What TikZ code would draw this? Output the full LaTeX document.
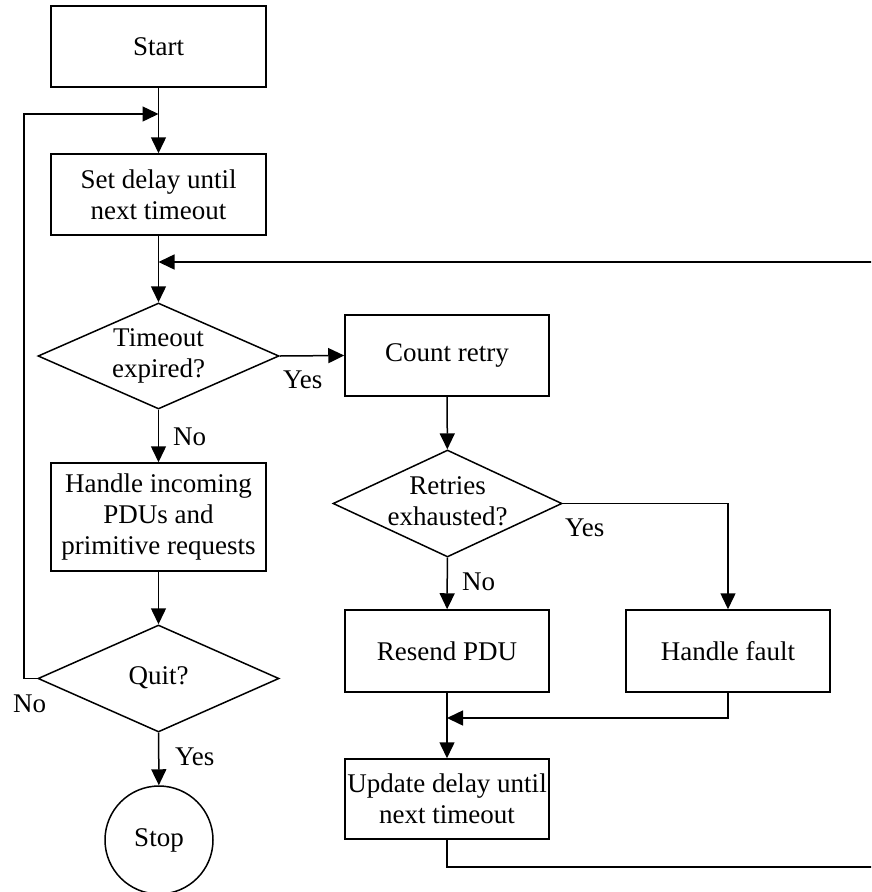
\documentclass[tikz,border=0pt]{standalone}
\usepackage{fontspec}
\setmainfont{Liberation Serif}
\usetikzlibrary{arrows.meta,shapes.geometric}
\newcommand{\dtxt}[1]{\makebox[0pt]{\begin{tabular}{@{}c@{}}#1\end{tabular}}}
\begin{document}
\begin{tikzpicture}[x=1pt,y=-1pt,
  every node/.style={font=\fontsize{27}{31}\selectfont},
  box/.style={draw,line width=1.5pt,align=center,inner sep=2pt,minimum width=215pt,minimum height=81pt},
  dia/.style={draw,line width=1.5pt,shape=diamond,inner sep=0pt,align=center},
  term/.style={draw,line width=1.5pt,shape=circle,inner sep=0pt,minimum size=108pt},
  lbl/.style={anchor=base west,inner sep=0pt},
  arr/.style={line width=1.5pt,-{Triangle[length=16pt,width=15pt]}},
  ln/.style={line width=1.5pt}]
\useasboundingbox (0,0) rectangle (871,892);
\clip (0,0) rectangle (871,892);
% left column
\node[box] (start) at (158.5,46.5) {Start};
\node[box] (set) at (158.5,194.5) {Set delay until\\next timeout};
\node[dia,minimum width=241pt,minimum height=106pt] (to) at (158.5,356) {\dtxt{Timeout\\expired?}};
\node[box,minimum height=108pt] (hin) at (158.5,517) {Handle incoming\\PDUs and\\primitive requests};
\node[dia,minimum width=241pt,minimum height=107pt] (quit) at (158.5,678.5) {\dtxt{Quit?}};
\node[term] (stop) at (159,840) {Stop};
% right part
\node[box,minimum width=204pt] (cnt) at (447,355.5) {Count retry};
\node[dia,minimum width=229pt,minimum height=107pt] (ret) at (447.5,503.5) {\dtxt{Retries\\exhausted?}};
\node[box,minimum width=204pt,minimum height=82pt] (res) at (447,651) {Resend PDU};
\node[box,minimum width=204pt,minimum height=82pt] (fault) at (728,651) {Handle fault};
\node[box,minimum width=204pt,minimum height=80pt] (upd) at (447,799) {Update delay until\\next timeout};
% junction coordinates
\coordinate (jl) at (158.5,114);
\coordinate (lx) at (24,0);
\coordinate (jr) at (158.5,262);
\coordinate (rb) at (884,867);
\coordinate (jm) at (447,718);
% connectors
\draw[arr] (start) -- (set);
\draw[arr] (quit.west) -- (quit.west -| lx) |- (jl);
\draw[arr] (set) -- (to);
\draw[arr] (upd.south) |- (rb) |- (jr);
\draw[arr] (to.east) -- (cnt.west);
\draw[arr] (to) -- (hin);
\draw[arr] (hin) -- (quit);
\draw[arr] (quit) -- (stop);
\draw[arr] (cnt) -- (ret);
\draw[arr] (ret) -- (res);
\draw[arr] (ret.east) -| (fault.north);
\draw[arr] (res) -- (upd);
\draw[arr] (fault.south) |- (jm);
% labels
\node[lbl] (y1) at (283,388) {Yes};
\node[lbl] (n1) at (173,445) {No};
\node[lbl] (n2) at (13,712) {No};
\node[lbl] (y2) at (175,765) {Yes};
\node[lbl] (y3) at (565,536) {Yes};
\node[lbl] (n3) at (462,590) {No};
\end{tikzpicture}
\end{document}
